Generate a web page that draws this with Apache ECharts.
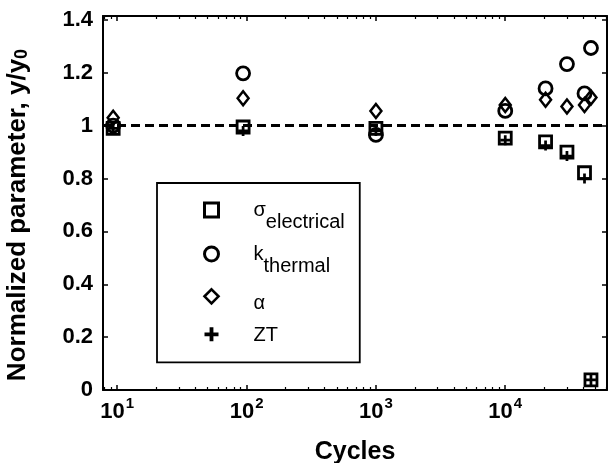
<!DOCTYPE html>
<html><head><meta charset="utf-8">
<script src="https://cdn.jsdelivr.net/npm/echarts@6/dist/echarts.min.js"></script>
<style>html,body{margin:0;padding:0;background:#fff}#c{width:609px;height:463px}</style>
</head><body><div id="c"></div>
<script>
// ---- data ----
const cycles = [9.3, 94, 1000, 10000, 20500, 30000, 41000, 46000];
const sigmaElectrical = [0.99, 0.995, 0.99, 0.953, 0.939, 0.900, 0.822, 0.038];
const kThermal = [1.00, 1.198, 0.965, 1.056, 1.141, 1.233, 1.122, 1.294];
const alphaSeebeck = [1.03, 1.104, 1.056, 1.078, 1.098, 1.073, 1.078, 1.107];
const ztValues = [0.99, 0.98, 0.98, 0.945, 0.925, 0.885, 0.80, 0.038];
const xTickExponents = [1, 2, 3, 4];
const yTicks = [0, 0.2, 0.4, 0.6, 0.8, 1, 1.2, 1.4];
const xRange = [7.76, 61200];
const yRange = [0, 1.415];
const referenceLevel = 1;

// ---- build options ----
const FF = "'Liberation Sans', Arial, sans-serif";
const lg = Math.log10;
const xMin = lg(xRange[0]), xMax = lg(xRange[1]);
const minorTicks = [];
for (let n = 0; n <= 4; n++) for (let k = 2; k <= 9; k++) {
  const v = lg(k * Math.pow(10, n));
  if (v > xMin && v < xMax) minorTicks.push(v);
}
const toPts = vals => cycles.map((c, i) => [lg(c), vals[i]]);

const blk = '#000';
const baseX = {type: 'value', min: xMin, max: xMax, gridIndex: 0, splitLine: {show: false}};
const hollow = {color: 'rgba(0,0,0,0)', borderColor: blk, borderWidth: 2.8, opacity: 1};
const axisLn = {show: true, lineStyle: {color: blk, width: 2}};
const majTick = vals => ({show: true, inside: true, length: 5, customValues: vals, lineStyle: {color: blk, width: 1.5}});
const minTick = {show: true, inside: true, length: 3, customValues: minorTicks, lineStyle: {color: blk, width: 1.2}};

const option = {
  animation: false,
  backgroundColor: '#fff',
  grid: {left: 103, right: 2, top: 16, bottom: 73, outerBoundsMode: 'none', containLabel: false},
  xAxis: [
    Object.assign({}, baseX, {
      position: 'bottom', axisLine: axisLn, axisTick: majTick(xTickExponents.slice()),
      axisLabel: {
        show: true, margin: 6, customValues: xTickExponents.slice(),
        formatter: v => '{b|10}{p|' + Math.round(v) + '}',
        rich: {
          b: {fontFamily: FF, fontSize: 22, fontWeight: 'bold', color: blk, height: 24},
          p: {fontFamily: FF, fontSize: 15, fontWeight: 'bold', color: blk, height: 16, padding: [0, 0, 16, 1]}
        }
      },
      name: 'Cycles', nameLocation: 'middle', nameGap: 50,
      nameTextStyle: {fontFamily: FF, fontSize: 25, fontWeight: 'bold', color: blk}
    }),
    Object.assign({}, baseX, {position: 'bottom', axisLine: {show: false}, axisLabel: {show: false}, axisTick: minTick}),
    Object.assign({}, baseX, {position: 'top', axisLine: axisLn, axisLabel: {show: false}, axisTick: majTick(xTickExponents.slice())}),
    Object.assign({}, baseX, {position: 'top', axisLine: {show: false}, axisLabel: {show: false}, axisTick: minTick})
  ],
  yAxis: [
    {
      type: 'value', min: yRange[0], max: yRange[1], position: 'left', splitLine: {show: false},
      axisLine: axisLn, axisTick: majTick(yTicks.slice()),
      axisLabel: {
        show: true, margin: 10, customValues: yTicks.slice(),
        formatter: v => String(Math.round(v * 10) / 10),
        fontFamily: FF, fontSize: 22, fontWeight: 'bold', color: blk
      },
      name: '{t|Normalized parameter, y/y}{s|0}', nameLocation: 'middle', nameGap: 71,
      nameTextStyle: {
        padding: [0, 24, 0, 0],
        rich: {
          t: {fontFamily: FF, fontSize: 26, fontWeight: 'bold', color: blk, height: 27},
          s: {fontFamily: FF, fontSize: 18, fontWeight: 'bold', color: blk, height: 19, padding: [10, 0, 0, 0]}
        }
      }
    },
    {
      type: 'value', min: yRange[0], max: yRange[1], position: 'right', splitLine: {show: false},
      axisLine: axisLn, axisTick: majTick(yTicks.slice()), axisLabel: {show: false}
    }
  ],
  legend: {
    orient: 'vertical', left: 157, top: 183,
    padding: [17, 15, 17, 46],
    itemWidth: 14, itemHeight: 14, itemGap: 12,
    borderColor: blk, borderWidth: 1.8, backgroundColor: '#fff',
    data: [
      {name: 'sigma', itemStyle: {borderWidth: 3, opacity: 1}},
      {name: 'k', itemStyle: {borderWidth: 3, opacity: 1}},
      {name: 'alpha', itemStyle: {borderWidth: 2.6, opacity: 1}},
      {name: 'ZT', itemStyle: {opacity: 1}}
    ],
    formatter: name => ({
      sigma: '{m|σ}{s|electrical}',
      k: '{m|k}{s|thermal}',
      alpha: '{a|α}',
      ZT: '{c|ZT}'
    })[name],
    textStyle: {
      color: blk, fontFamily: FF, fontSize: 20,
      rich: {
        m: {fontFamily: FF, fontSize: 20, color: blk, height: 20, padding: [0, 0, 0, 30]},
        s: {fontFamily: FF, fontSize: 20, color: blk, height: 20, padding: [24, 0, 0, 0]},
        a: {fontFamily: FF, fontSize: 20, color: blk, height: 20, padding: [20, 0, 6, 30]},
        c: {fontFamily: FF, fontSize: 20, color: blk, height: 14, padding: [2, 0, 0, 30]}
      }
    }
  },
  series: [
    {
      name: 'sigma', type: 'scatter', xAxisIndex: 0, yAxisIndex: 0,
      symbol: 'rect', symbolSize: 12, itemStyle: hollow, data: toPts(sigmaElectrical),
      markLine: {
        silent: true, symbol: 'none', label: {show: false},
        lineStyle: {type: [9, 5], width: 3, color: blk, opacity: 1},
        data: [{yAxis: referenceLevel}]
      }
    },
    {
      name: 'k', type: 'scatter', xAxisIndex: 0, yAxisIndex: 0,
      symbol: 'circle', symbolSize: 13, itemStyle: hollow, data: toPts(kThermal)
    },
    {
      name: 'alpha', type: 'scatter', xAxisIndex: 0, yAxisIndex: 0,
      symbol: 'diamond', symbolSize: [11, 14], itemStyle: Object.assign({}, hollow, {borderWidth: 2.5}), data: toPts(alphaSeebeck)
    },
    {
      name: 'ZT', type: 'scatter', xAxisIndex: 0, yAxisIndex: 0,
      symbol: 'path://M4,0H7V4H11V7H7V11H4V7H0V4H4Z', symbolSize: 10,
      itemStyle: {color: blk, opacity: 1}, data: toPts(ztValues)
    }
  ]
};

const chart = echarts.init(document.getElementById('c'), null, {renderer: 'canvas'});
chart.setOption(option);
</script>
</body></html>
